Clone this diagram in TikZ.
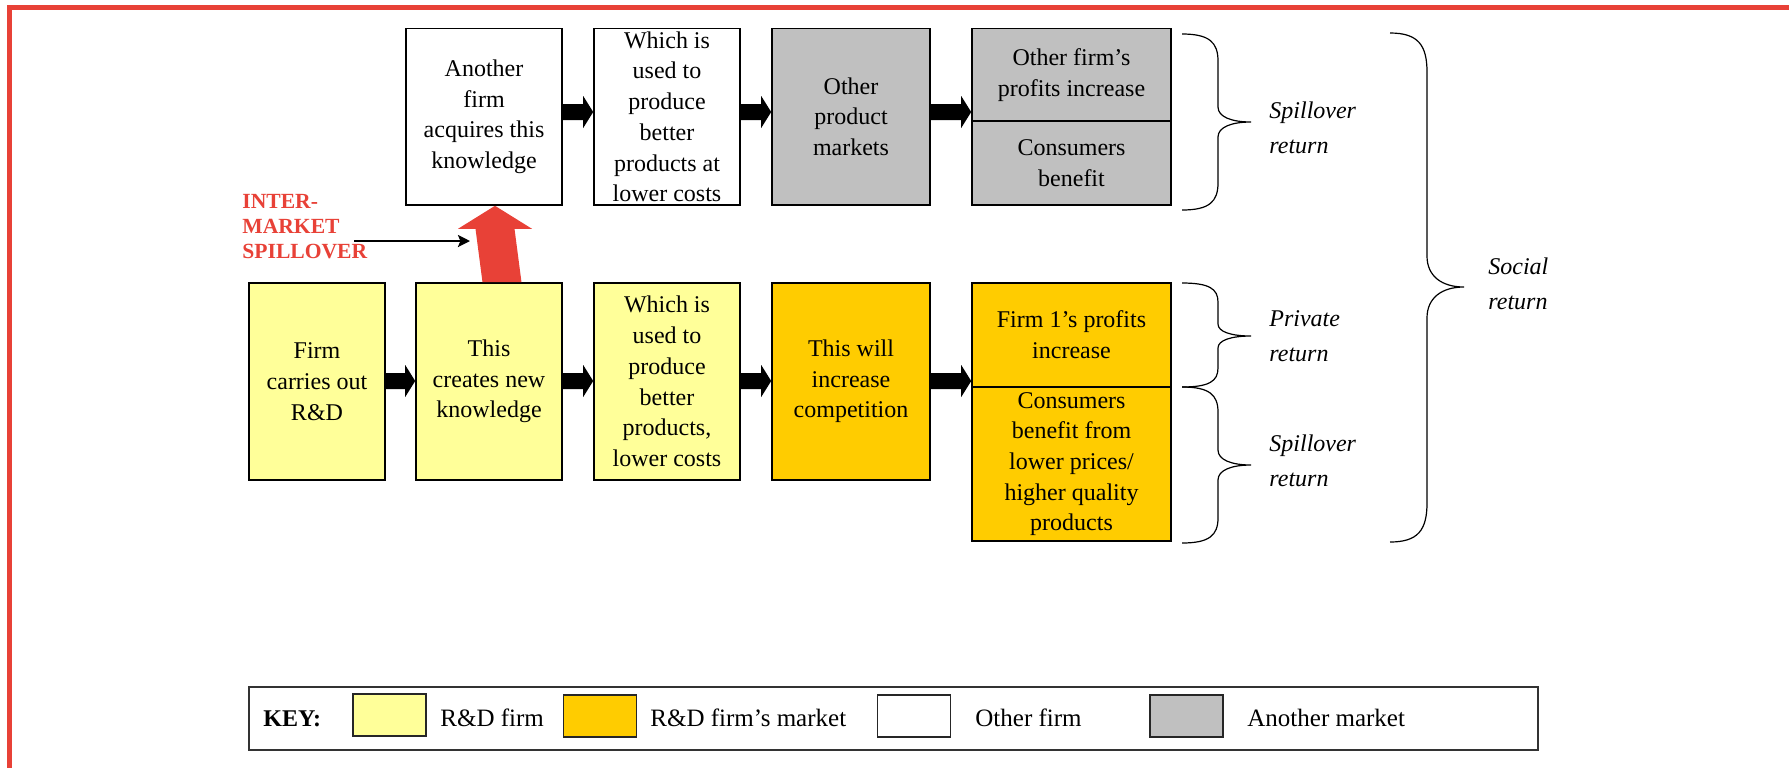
\documentclass[tikz,border=0pt]{standalone}
\usepackage{fontspec}
\setmainfont{Liberation Serif}
\usetikzlibrary{arrows.meta,calc}

\definecolor{rdfirm}{RGB}{255,255,153}
\definecolor{rdmarket}{RGB}{255,204,0}
\definecolor{othermkt}{RGB}{192,192,192}
\definecolor{alertred}{RGB}{232,65,55}

% black block arrow between two boxes, along the horizontal line y=#3
\newcommand{\flowarrow}[3]{%
  \path (#1.east |- 0,#3) coordinate (fa-s) (#2.west |- 0,#3) coordinate (fa-e);
  \fill[black] ($(fa-s)+(0,-8)$) -- ($(fa-e)+(-10,-8)$) -- ($(fa-e)+(-10,-16)$)
    -- (fa-e) -- ($(fa-e)+(-10,16)$) -- ($(fa-e)+(-10,8)$) -- ($(fa-s)+(0,8)$) -- cycle;
}

% right-hand curly brace: left x, stem x, tip x, top y, tip y, bottom y, end radius, tip radius
\newcommand{\rightcurly}[8]{%
  \draw[bracepen] (#1,#4) .. controls ({#1+0.75*(#2-#1)},#4) and (#2,{#4+0.3*#7}) .. (#2,{#4+#7})
    -- (#2,{#5-#8}) .. controls (#2,{#5-0.35*#8}) and ({#2+0.4*(#3-#2)},#5) .. (#3,#5)
    .. controls ({#2+0.4*(#3-#2)},#5) and (#2,{#5+0.35*#8}) .. (#2,{#5+#8})
    -- (#2,{#6-#7}) .. controls (#2,{#6-0.3*#7}) and ({#1+0.75*(#2-#1)},#6) .. (#1,#6);
}

\begin{document}
\begin{tikzpicture}[x=0.5pt,y=-0.5pt,
  box/.style={draw=black, line width=0.8pt, inner sep=0pt, align=center,
    font=\fontsize{12}{15.35}\selectfont,
    execute at begin node={\rule{0pt}{11.4pt}}},
  topbox/.style={box, minimum height=88.25pt},
  lowbox/.style={box, minimum height=98.5pt},
  retlabel/.style={anchor=west, inner sep=0pt, align=left,
    font=\itshape\fontsize{12}{17.5}\selectfont},
  bracepen/.style={draw=black, line width=0.6pt},
  swatch/.style={draw=black!85, line width=0.8pt, minimum width=36.5pt, minimum height=21pt, inner sep=0pt},
  keytext/.style={anchor=base west, inner sep=0pt, font=\fontsize{12.5}{15}\selectfont}]

\useasboundingbox (0,0) rectangle (1789,768);
\fill[white] (0,0) rectangle (1789,768);

% page frame (only its top and left sides fall inside the picture)
\draw[alertred, line width=2.5pt, line join=miter] (1789,7.5) -- (9.5,7.5) -- (9.5,768);

% ---- other firm / other market (top row)
\node[topbox, fill=white, minimum width=78pt] (acquire) at (484,116.75)
  {Another\\firm\\acquires this\\knowledge};
\node[topbox, fill=white, minimum width=73pt] (useother) at (667,116.75)
  {Which is\\used to\\produce\\better\\products at\\lower costs};
\node[topbox, fill=othermkt, minimum width=79pt] (othermarkets) at (851,116.75)
  {Other\\product\\markets};
\node[box, fill=othermkt, minimum width=99.5pt, minimum height=46.25pt] (otherprofit) at (1071.5,74.75)
  {Other firm’s\\profits increase};
\node[box, fill=othermkt, minimum width=99.5pt, minimum height=42pt] (otherconsumer) at (1071.5,163)
  {Consumers\\benefit};

% ---- R&D firm and its market (bottom row)
\node[lowbox, fill=rdfirm, minimum width=68pt] (rd) at (317,381.5)
  {Firm\\carries out\\R\&D};
\node[lowbox, fill=rdfirm, minimum width=73pt] (knowledge) at (489,381.5)
  {This\\creates new\\knowledge};
\node[lowbox, fill=rdfirm, minimum width=73pt] (useown) at (667,381.5)
  {Which is\\used to\\produce\\better\\products,\\lower costs};
\node[lowbox, fill=rdmarket, minimum width=79pt] (competition) at (851,381.5)
  {This will\\increase\\competition};
\node[box, fill=rdmarket, minimum width=99.5pt, minimum height=52pt] (ownprofit) at (1071.5,335)
  {Firm 1’s profits\\increase};
\node[box, fill=rdmarket, minimum width=99.5pt, minimum height=77pt] (ownconsumer) at (1071.5,464)
  {Consumers\\benefit from\\lower prices/\\higher quality\\products};

% ---- flow arrows
\flowarrow{acquire}{useother}{112}
\flowarrow{useother}{othermarkets}{112}
\flowarrow{othermarkets}{otherprofit}{112}
\flowarrow{rd}{knowledge}{381}
\flowarrow{knowledge}{useown}{381}
\flowarrow{useown}{competition}{381}
\flowarrow{competition}{ownprofit}{381}

% ---- inter-market spillover
\path ([xshift=6.5pt]knowledge.north) coordinate (up-s) ([xshift=5.5pt]acquire.south) coordinate (up-e);
\fill[alertred] ($(up-s)+(-19.5,0)$) -- ($(up-e)+(-19.5,23)$) -- ($(up-e)+(-37,23)$) -- (up-e)
  -- ($(up-e)+(37,23)$) -- ($(up-e)+(19.5,23)$) -- ($(up-s)+(19.5,0)$) -- cycle;

\node[anchor=west, inner sep=0pt, align=left, text=alertred,
  font=\bfseries\fontsize{10.8}{12.5}\selectfont] (spilltext) at (242,227)
  {INTER-\\MARKET\\SPILLOVER};
\coordinate (pointer-s) at (354,241);
\coordinate (pointer-e) at (470,241);
\draw[line width=1.2pt, -{Stealth[length=6pt,width=6pt,inset=1.2pt]}] (pointer-s) -- (pointer-e);

% ---- returns
\rightcurly{1182}{1218}{1251}{34}{122}{210}{27}{15}
\rightcurly{1182}{1218}{1251}{283}{336}{387}{19}{12}
\rightcurly{1182}{1218}{1251}{387}{465}{543}{25}{15}
\rightcurly{1390}{1427}{1464}{33}{287}{542}{39}{31}

\node[retlabel] (spillA) at (1269,128) {Spillover\\return};
\node[retlabel] (private) at (1269,336) {Private\\return};
\node[retlabel] (spillB) at (1269,461) {Spillover\\return};
\node[retlabel] (social) at (1488,284) {Social\\return};

% ---- key
\node[draw=black!80, line width=0.8pt, minimum width=644.5pt, minimum height=31.5pt, inner sep=0pt]
  (keybox) at (893.5,718.5) {};
\node[keytext, font=\bfseries\fontsize{12}{15}\selectfont] (keyhead) at (263,726) {KEY:};
\node[swatch, fill=rdfirm] (keyrdfirm) at (389.5,715) {};
\node[keytext] (keyrdfirmtext) at (440,726) {R\&D firm};
\node[swatch, fill=rdmarket] (keyrdmarket) at (600,716) {};
\node[keytext] (keyrdmarkettext) at (650,726) {R\&D firm’s market};
\node[swatch, fill=white] (keyother) at (914,716) {};
\node[keytext] (keyothertext) at (975,726) {Other firm};
\node[swatch, fill=othermkt] (keyanother) at (1186.5,716) {};
\node[keytext] (keyanothertext) at (1247,726) {Another market};

\end{tikzpicture}
\end{document}
